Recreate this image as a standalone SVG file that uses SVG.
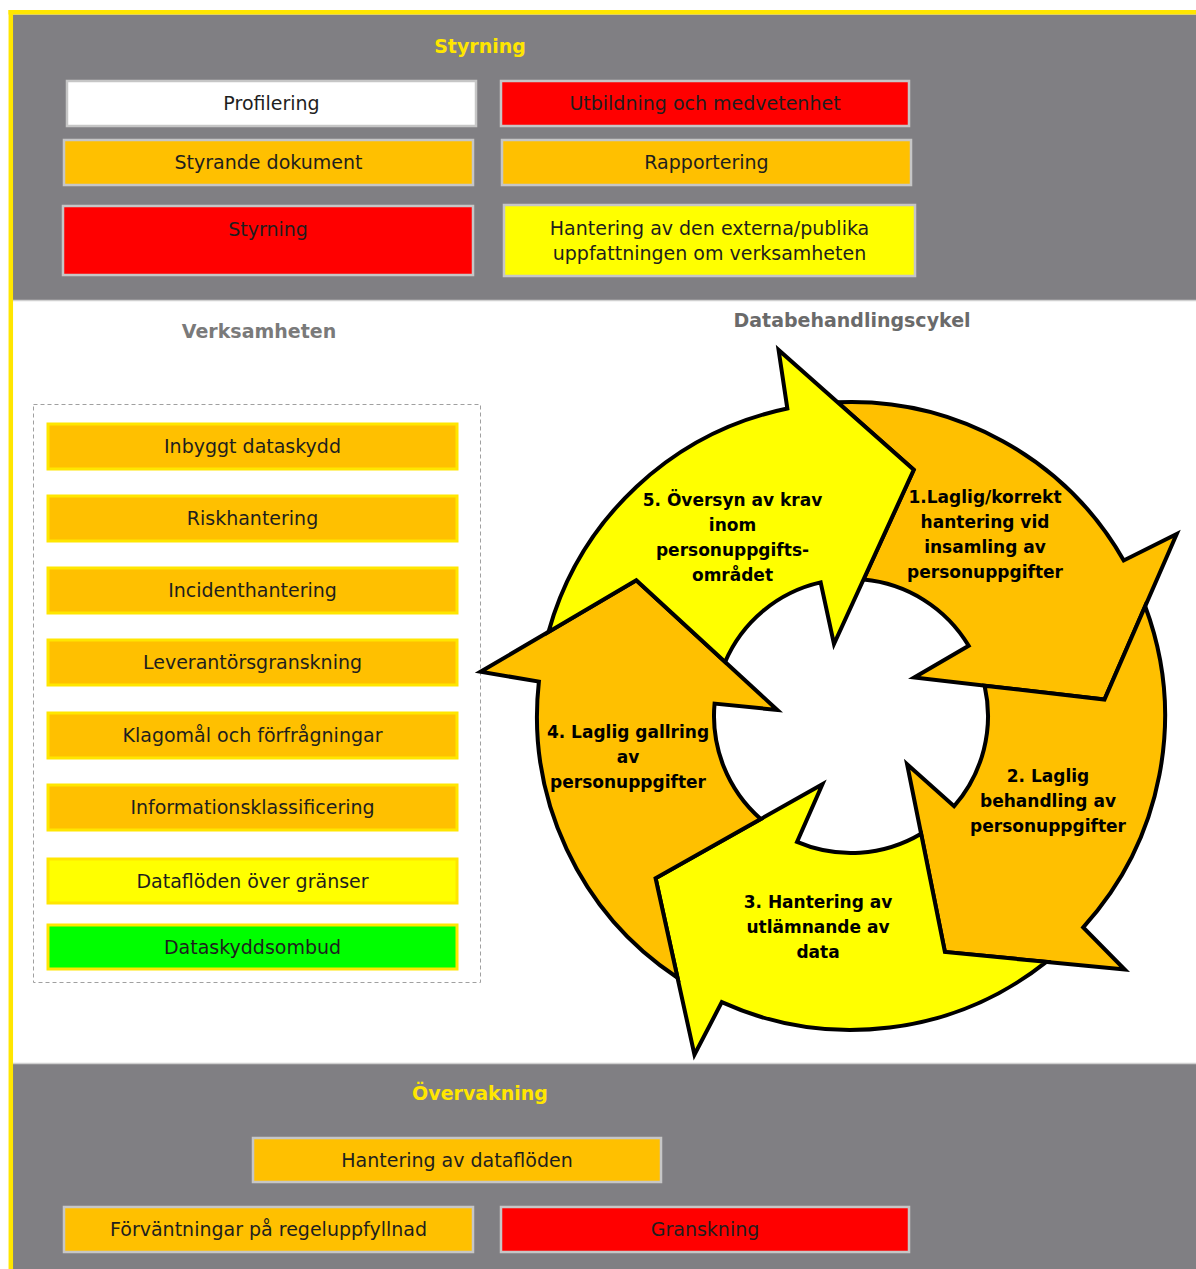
<svg xmlns="http://www.w3.org/2000/svg" xmlns:xlink="http://www.w3.org/1999/xlink" width="1196" height="1269" viewBox="0 0 1196 1269">
<style>
.band{fill:#807f83}
.bandedge{stroke:#d0d0d0;stroke-width:1.5}
.tb{stroke:#c6c6c6;stroke-width:2.5}
.vb{stroke:#FFE600;stroke-width:3}
.lb{font-family:"DejaVu Sans",sans-serif;font-size:19px;fill:#1e1e1e;text-anchor:middle}
.title{font-family:"DejaVu Sans",sans-serif;font-weight:bold;font-size:19px;text-anchor:middle}
.ct{font-family:"DejaVu Sans",sans-serif;font-weight:bold;font-size:17px;fill:#000;text-anchor:middle}
.arr{stroke:#000;stroke-width:4;stroke-linejoin:miter}
.orange{fill:#FFC000}
.yellow{fill:#FFFF00}
.red{fill:#FF0000}
.green{fill:#00FF00}
.white{fill:#FFFFFF}
</style>
<defs>
<path id="arrowShape" d="M837.47,402.30 A314,314 0 0 1 1123.75,560.43 L1176.71,534.03 L1104.47,699.61 L914.23,677.56 L968.68,645.85 A137,137 0 0 0 863.49,579.57 L913.74,469.87 Z"/>
</defs>
<rect x="0" y="0" width="1196" height="1269" fill="#FFFFFF"/>
<g id="frame">
<rect class="band" x="13" y="14.5" width="1183" height="286"/>
<line class="bandedge" x1="13" y1="300.5" x2="1196" y2="300.5"/>
<rect class="band" x="13" y="1063.5" width="1183" height="206"/>
<line class="bandedge" x1="13" y1="1063.5" x2="1196" y2="1063.5"/>
<line x1="10.8" y1="10" x2="10.8" y2="1269" stroke="#FFE600" stroke-width="4.5"/>
<line x1="8.5" y1="12.3" x2="1196" y2="12.3" stroke="#FFE600" stroke-width="4.5"/>
</g>
<g id="titles">
<text class="title" x="480" y="53" fill="#FFE600">Styrning</text>
<text class="title" x="480" y="1100" fill="#FFE600">Övervakning</text>
<text class="title" x="259" y="338" fill="#7a7a7a">Verksamheten</text>
<text class="title" x="852" y="327" fill="#6a6a6a">Databehandlingscykel</text>
</g>
<g id="styrning-boxes">
<g id="profilering"><rect class="tb white" x="67" y="81" width="409" height="45"/><text class="lb" x="271.5" y="110">Profilering</text></g>
<g id="utbildning"><rect class="tb red" x="501" y="81" width="408" height="45"/><text class="lb" x="705" y="110">Utbildning och medvetenhet</text></g>
<g id="styrande"><rect class="tb orange" x="64" y="140" width="409" height="45"/><text class="lb" x="268.5" y="169">Styrande dokument</text></g>
<g id="rapportering"><rect class="tb orange" x="502" y="140" width="409" height="45"/><text class="lb" x="706.5" y="169">Rapportering</text></g>
<g id="styrning-box"><rect class="tb red" x="63" y="206" width="410" height="69"/><text class="lb" x="268" y="236">Styrning</text></g>
<g id="hantering-extern"><rect class="tb yellow" x="504" y="205" width="411" height="71"/><text class="lb" x="709.5" y="235">Hantering av den externa/publika</text><text class="lb" x="709.5" y="260">uppfattningen om verksamheten</text></g>
</g>
<g id="verksamheten">
<rect x="33.5" y="404.5" width="447" height="578" fill="none" stroke="#a0a0a0" stroke-width="1" stroke-dasharray="4 3"/>
<g id="inbyggt"><rect class="vb orange" x="48" y="424" width="409" height="45"/><text class="lb" x="252.5" y="453">Inbyggt dataskydd</text></g>
<g id="risk"><rect class="vb orange" x="48" y="496" width="409" height="45"/><text class="lb" x="252.5" y="525">Riskhantering</text></g>
<g id="incident"><rect class="vb orange" x="48" y="568" width="409" height="45"/><text class="lb" x="252.5" y="597">Incidenthantering</text></g>
<g id="leverantor"><rect class="vb orange" x="48" y="640" width="409" height="45"/><text class="lb" x="252.5" y="669">Leverantörsgranskning</text></g>
<g id="klagomal"><rect class="vb orange" x="48" y="713" width="409" height="45"/><text class="lb" x="252.5" y="742">Klagomål och förfrågningar</text></g>
<g id="infoklass"><rect class="vb orange" x="48" y="785" width="409" height="45"/><text class="lb" x="252.5" y="814">Informationsklassificering</text></g>
<g id="dataflode"><rect class="vb yellow" x="48" y="859" width="409" height="44"/><text class="lb" x="252.5" y="888">Dataflöden över gränser</text></g>
<g id="ombud"><rect class="vb green" x="48" y="925" width="409" height="44"/><text class="lb" x="252.5" y="954">Dataskyddsombud</text></g>
</g>
<g id="connectors"></g>
<g id="cycle">
<g id="arrow1"><use xlink:href="#arrowShape" href="#arrowShape" class="arr orange"/>
<text class="ct" x="985" y="503">1.Laglig/korrekt</text><text class="ct" x="985" y="528">hantering vid</text><text class="ct" x="985" y="553">insamling av</text><text class="ct" x="985" y="578">personuppgifter</text></g>
<g id="arrow2"><use xlink:href="#arrowShape" href="#arrowShape" class="arr orange" transform="rotate(72 851 716)"/>
<text class="ct" x="1048" y="781.5">2. Laglig</text><text class="ct" x="1048" y="806.5">behandling av</text><text class="ct" x="1048" y="831.5">personuppgifter</text></g>
<g id="arrow3"><use xlink:href="#arrowShape" href="#arrowShape" class="arr yellow" transform="rotate(144 851 716)"/>
<text class="ct" x="818" y="908">3. Hantering av</text><text class="ct" x="818" y="933">utlämnande av</text><text class="ct" x="818" y="958">data</text></g>
<g id="arrow4"><use xlink:href="#arrowShape" href="#arrowShape" class="arr orange" transform="rotate(-144 851 716)"/>
<text class="ct" x="628" y="738">4. Laglig gallring</text><text class="ct" x="628" y="763">av</text><text class="ct" x="628" y="788">personuppgifter</text></g>
<g id="arrow5"><use xlink:href="#arrowShape" href="#arrowShape" class="arr yellow" transform="rotate(-72 851 716)"/>
<text class="ct" x="732.5" y="505.5">5. Översyn av krav</text><text class="ct" x="732.5" y="530.5">inom</text><text class="ct" x="732.5" y="555.5">personuppgifts-</text><text class="ct" x="732.5" y="580.5">området</text></g>
</g>
<g id="overvakning-boxes">
<g id="hantering-dataflode"><rect class="tb orange" x="253" y="1138" width="408" height="44"/><text class="lb" x="457" y="1167">Hantering av dataflöden</text></g>
<g id="forvantningar"><rect class="tb orange" x="64" y="1207" width="409" height="45"/><text class="lb" x="268.5" y="1236">Förväntningar på regeluppfyllnad</text></g>
<g id="granskning"><rect class="tb red" x="501" y="1207" width="408" height="45"/><text class="lb" x="705" y="1236">Granskning</text></g>
</g>
</svg>
